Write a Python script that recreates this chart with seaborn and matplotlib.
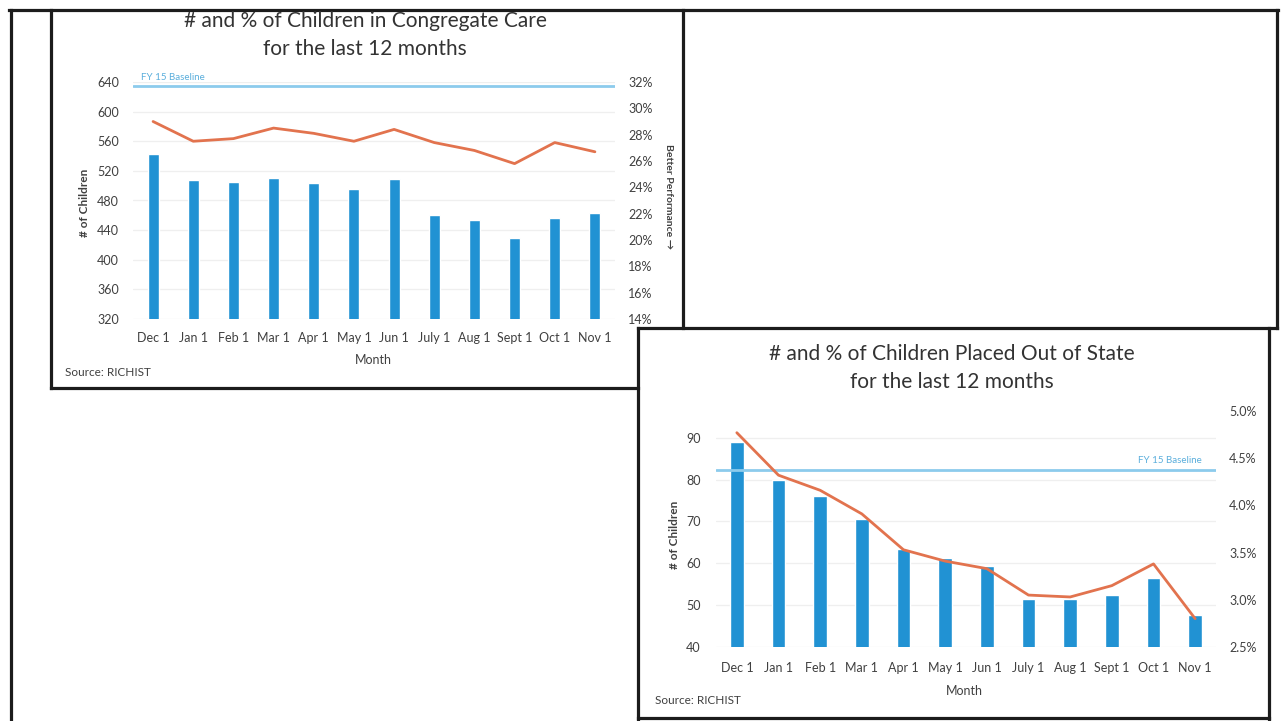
import matplotlib
matplotlib.use("Agg")
import matplotlib.pyplot as plt
from matplotlib.lines import Line2D
from matplotlib.ticker import FuncFormatter, MultipleLocator
import seaborn as sns

# ---- data -------------------------------------------------------------
months = ["Dec 1", "Jan 1", "Feb 1", "Mar 1", "Apr 1", "May 1", "Jun 1",
          "July 1", "Aug 1", "Sept 1", "Oct 1", "Nov 1"]

congregate_count = [543, 508, 505, 511, 503, 495, 509, 460, 454, 430, 456, 463]
congregate_pct = [29.0, 27.5, 27.7, 28.5, 28.1, 27.5, 28.4, 27.4, 26.8, 25.8, 27.4, 26.7]
congregate_baseline_pct = 31.7

out_of_state_count = [89, 80, 76, 70.5, 63.4, 61.2, 59.3, 51.5, 51.5, 52.4, 56.5, 47.7]
out_of_state_pct = [4.77, 4.32, 4.16, 3.91, 3.53, 3.41, 3.33, 3.05, 3.03, 3.15, 3.38, 2.80]
out_of_state_baseline_pct = 4.38

# ---- style ------------------------------------------------------------
BAR = "#2192d3"
LINE = "#e2734e"
BASE = "#8ccbec"
BASE_TXT = "#5aaedc"
TXT = "#404040"
FRAME = "#1c1c1c"

sns.set_style("white")
plt.rcParams["font.family"] = ["Lato", "DejaVu Sans"]

W, H = 1281, 721
fig = plt.figure(figsize=(W / 100, H / 100), dpi=100)
fig.patch.set_facecolor("white")


def px_rect(x0, y0, x1, y1):
    return [x0 / W, 1 - y1 / H, (x1 - x0) / W, (y1 - y0) / H]


def px_text(x, y, s, **kw):
    fig.text(x / W, 1 - y / H, s, **kw)


def px_line(x0, y0, x1, y1, lw=2.3):
    fig.add_artist(Line2D([x0 / W, x1 / W], [1 - y0 / H, 1 - y1 / H],
                          color=FRAME, lw=lw, solid_capstyle="projecting"))


def draw_panel(box, counts, pcts, baseline, count_lim, count_step, pct_lim,
               pct_step, pct_fmt, bar_width, base_label_side,
               lpad, rpad, xpad):
    ax = fig.add_axes(px_rect(*box))
    sns.barplot(x=months, y=counts, ax=ax, color=BAR, width=bar_width,
                saturation=1, zorder=2)
    ax.set_ylim(*count_lim)
    ax.yaxis.set_major_locator(MultipleLocator(count_step))
    ax.grid(axis="y", color="#efefef", lw=0.9)
    ax.set_axisbelow(True)
    ax.set_xlabel("")
    ax.set_ylabel("")
    ax.tick_params(axis="y", length=0, pad=lpad, labelsize=9, labelcolor=TXT)
    ax.tick_params(axis="x", length=0, pad=xpad, labelsize=9, labelcolor=TXT)
    for s in ax.spines.values():
        s.set_visible(False)

    ax2 = ax.twinx()
    sns.pointplot(x=months, y=pcts, ax=ax2, color=LINE, markers="",
                  linewidth=2.0)
    ax2.set_ylim(*pct_lim)
    ax2.yaxis.set_major_locator(MultipleLocator(pct_step))
    ax2.yaxis.set_major_formatter(FuncFormatter(lambda v, _: pct_fmt.format(v)))
    ax2.set_ylabel("")
    ax2.tick_params(axis="y", length=0, pad=rpad, labelsize=9, labelcolor=TXT)
    ax2.grid(False)
    for s in ax2.spines.values():
        s.set_visible(False)

    ax2.axhline(baseline, color=BASE, lw=2.0, zorder=1)
    if base_label_side == "left":
        ax2.annotate("FY 15 Baseline", xy=(0, baseline),
                     xycoords=("axes fraction", "data"), xytext=(6, 3),
                     textcoords="offset points", ha="left", va="bottom",
                     fontsize=7, color=BASE_TXT)
    else:
        ax2.annotate("FY 15 Baseline", xy=(1, baseline),
                     xycoords=("axes fraction", "data"), xytext=(-10, 3),
                     textcoords="offset points", ha="right", va="bottom",
                     fontsize=7, color=BASE_TXT)
    return ax, ax2


# ---- congregate care panel -------------------------------------------
draw_panel((133, 82, 615, 319), congregate_count, congregate_pct,
           congregate_baseline_pct, (320, 640), 40, (14, 32), 2, "{:.0f}%",
           0.27, "left", lpad=10, rpad=9.5, xpad=9)

px_text(365, 35, "# and % of Children in Congregate Care\nfor the last 12 months",
        ha="center", va="center", fontsize=15, color="#333333",
        linespacing=1.45)
px_text(84, 203, "# of Children", rotation=90, ha="center", va="center",
        fontsize=8.5, color=TXT, fontweight="bold")
px_text(668, 197, "Better Performance \u2192", rotation=270, ha="center",
        va="center", fontsize=7.5, color=TXT, fontweight="bold")
px_text(373, 360, "Month", ha="center", va="center", fontsize=9, color=TXT)
px_text(65, 373, "Source: RICHIST", ha="left", va="center", fontsize=8.5,
        color=TXT)

# ---- out-of-state panel ----------------------------------------------
draw_panel((716, 411, 1216, 647), out_of_state_count, out_of_state_pct,
           out_of_state_baseline_pct, (40, 96.4), 10, (2.5, 5.0), 0.5,
           "{:.1f}%", 0.33, "right", lpad=11, rpad=9.5, xpad=11)

px_text(952, 368, "# and % of Children Placed Out of State\nfor the last 12 months",
        ha="center", va="center", fontsize=15, color="#333333",
        linespacing=1.45)
px_text(674, 535, "# of Children", rotation=90, ha="center", va="center",
        fontsize=8.5, color=TXT, fontweight="bold")
px_text(964, 691, "Month", ha="center", va="center", fontsize=9, color=TXT)
px_text(655, 701, "Source: RICHIST", ha="left", va="center", fontsize=8.5,
        color=TXT)

# ---- page and panel frames ---------------------------------------------
px_line(9, 10, 1278, 10)
px_line(11, 10, 11, 721)
px_line(1277, 10, 1277, 328)
px_line(51, 10, 51, 388)
px_line(683, 10, 683, 328)
px_line(51, 388, 638, 388)
px_line(638, 328, 1277, 328)
px_line(638, 328, 638, 721)
px_line(1269, 328, 1269, 721)
px_line(638, 718, 1269, 718)

fig.savefig("out.png", dpi=100, facecolor="white")
